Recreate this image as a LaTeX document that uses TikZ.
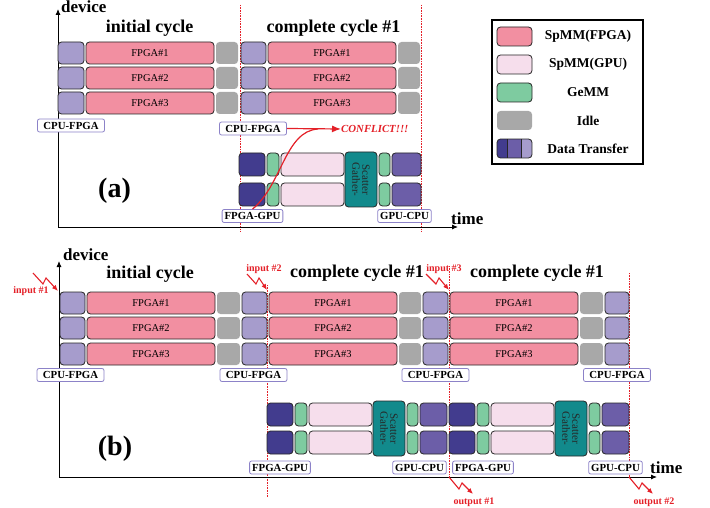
\documentclass[tikz,border=0pt]{standalone}
\usepackage{fontspec}
\setmainfont{Liberation Serif}
\usetikzlibrary{arrows.meta}
\definecolor{cfpga}{RGB}{242,143,161}
\definecolor{cgpu}{RGB}{246,222,236}
\definecolor{cgemm}{RGB}{126,203,160}
\definecolor{cidle}{RGB}{168,168,168}
\definecolor{cnavy}{RGB}{66,60,142}
\definecolor{cpur}{RGB}{108,94,168}
\definecolor{clav}{RGB}{166,156,204}
\definecolor{cteal}{RGB}{18,138,140}
\definecolor{clbl}{RGB}{140,130,200}
\definecolor{cred}{RGB}{228,32,40}
\newcommand{\bx}[7]{\node[#1, minimum width={(#4)-(#3)}, minimum height={(#6)-(#5)}] (#2) at ({((#3)+(#4))/2},{((#5)+(#6))/2}) {#7};}
\newcommand{\gpuset}[9]{%
  \foreach \r/\ya/\yb in {1/#4/#5, 2/#6/#7} {
    \bx{navyb}{#1N\r}{#2}{#2+26}{\ya}{\yb}{}
    \bx{gemmb}{#1G\r}{#2+28}{#2+40}{\ya}{\yb}{}
    \bx{gpub}{#1P\r}{#2+42}{#2+105}{\ya}{\yb}{}
    \bx{gemmb}{#1H\r}{#2+140}{#2+151}{\ya}{\yb}{}
    \bx{purb}{#1Q\r}{#2+153}{#3}{\ya}{\yb}{}
  }
  \node[gsb, minimum width={(#9)-(#8)}, minimum height=32] (#1GS) at ({#2+122},{((#8)+(#9))/2}) {Scatter\\Gather-};
}
\begin{document}
\begin{tikzpicture}[x=1pt,y=-1pt,
 blkbase/.style={rounded corners=3.5pt, inner sep=0pt, outer sep=0pt, line width=0.8pt, draw=black!85},
 fpgab/.style={blkbase, fill=cfpga, font=\fontsize{10.5}{12}\selectfont},
 cpub/.style={blkbase, fill=clav},
 idleb/.style={blkbase, draw=none, fill=cidle},
 navyb/.style={blkbase, fill=cnavy},
 purb/.style={blkbase, fill=cpur},
 gemmb/.style={blkbase, fill=cgemm},
 gpub/.style={blkbase, fill=cgpu},
 gsb/.style={blkbase, fill=cteal, rotate=-90, align=center, text=black!85, font=\fontsize{11}{10}\selectfont},
 lbl/.style={draw=clbl, fill=white, rounded corners=2pt, line width=0.8pt, inner xsep=2.5pt, inner ysep=0pt, minimum height=13, font=\bfseries\fontsize{10.8}{12}\selectfont},
 lblw/.style={lbl, minimum width=67},
 ttl/.style={font=\bfseries\fontsize{18}{20}\selectfont, anchor=base, inner sep=0},
 axl/.style={font=\bfseries\fontsize{17}{20}\selectfont, anchor=base west, inner sep=0},
 axarrow/.style={line width=0.9pt, -{Latex[length=6pt,width=5pt]}},
 vdot/.style={cred, densely dotted, line width=0.6pt},
 redt/.style={text=cred, font=\bfseries\fontsize{10}{12}\selectfont, inner sep=0},
 zig/.style={cred, line width=1.1pt, -{Latex[length=6pt,width=5pt]}},
 legt/.style={font=\bfseries\fontsize{13.5}{15}\selectfont, inner sep=0},
 pl/.style={font=\bfseries\fontsize{28}{30}\selectfont, anchor=base, inner sep=0},
]
\useasboundingbox (0,0) rectangle (710,508);

% ================= (a) =================
\draw[vdot] (240,5) -- (240,232);
\draw[vdot] (421,5) -- (421,232);
\coordinate (aO) at (58,227);
\coordinate (aY) at (58,9);
\coordinate (aX) at (458,227);
\draw[axarrow] (aO) -- (aY);
\draw[axarrow] (aO) -- (aX);
\node[axl] (aDev) at (61,12.5) {device};
\node[axl] (aTime) at (451,225) {time};
\node[ttl] (aT1) at (149.5,33) {initial cycle};
\node[ttl] (aT2) at (333.5,33) {complete cycle \#1};

\foreach \r/\ya/\yb in {1/42/64, 2/67/89, 3/92/114} {
  \bx{cpub}{aA\r}{58}{84}{\ya}{\yb}{}
  \bx{fpgab}{aF\r}{86}{214}{\ya}{\yb}{FPGA\#\r}
  \bx{idleb}{aI\r}{216}{238}{\ya}{\yb}{}
  \bx{cpub}{aB\r}{241}{266}{\ya}{\yb}{}
  \bx{fpgab}{aE\r}{268}{396}{\ya}{\yb}{FPGA\#\r}
  \bx{idleb}{aJ\r}{398}{420}{\ya}{\yb}{}
}
\gpuset{a}{239}{421}{153}{176}{183}{206}{152}{207}

\node[lblw] (aL1) at (71,125.5) {CPU-FPGA};
\node[lblw] (aL2) at (253,128.5) {CPU-FPGA};
\node[lbl] (aL3) at (252.5,216) {FPGA-GPU};
\node[lbl] (aL4) at (404.5,216) {GPU-CPU};
\node[anchor=west, inner sep=0, text=cred, font=\bfseries\itshape\fontsize{10.8}{12}\selectfont] (aCon) at (341,129) {CONFLICT!!!};
\draw[cred, line width=1.2pt] (aL3.north) .. controls (282,185) and (285,131) .. (318,129);
\draw[cred, line width=1.2pt, -{Latex[length=9pt,width=7pt]}] (aL2.east) -- (aCon.west);
\node[pl] (aLab) at (114.5,197) {(a)};

% ================= legend =================
\node[draw=black, line width=1.1pt, minimum width=151, minimum height=144, inner sep=0] (leg) at (567.5,92) {};
\bx{fpgab}{L1}{497}{532}{27}{46}{}
\bx{gpub}{L2}{497}{532}{55}{74}{}
\bx{gemmb}{L3}{497}{532}{83}{102}{}
\bx{idleb}{L4}{497}{532}{111}{130}{}
\begin{scope}
\clip[rounded corners=3.5pt] (497,139) rectangle (532,158);
\fill[cnavy] (497,139) rectangle (507,158);
\fill[cpur] (507,139) rectangle (521,158);
\fill[clav] (521,139) rectangle (532,158);
\end{scope}
\bx{blkbase}{L5}{497}{532}{139}{158}{}
\draw[line width=0.8pt, black!85] (507,139) -- (507,158) (521,139) -- (521,158);
\node[legt] (L1t) at (588,36.5) {SpMM(FPGA)};
\node[legt] (L2t) at (588,64.5) {SpMM(GPU)};
\node[legt] (L3t) at (588,92.5) {GeMM};
\node[legt] (L4t) at (588,120.5) {Idle};
\node[legt] (L5t) at (588,148.5) {Data Transfer};

% ================= (b) =================
\draw[vdot] (267,285) -- (267,497);
\draw[vdot] (449,266) -- (449,477);
\draw[vdot] (629,273) -- (629,477);
\coordinate (bO) at (59,477);
\coordinate (bY) at (59,261);
\coordinate (bX) at (657,477);
\draw[axarrow] (bO) -- (bY);
\draw[axarrow] (bO) -- (bX);
\node[axl] (bDev) at (63,260) {device};
\node[axl] (bTime) at (650,473) {time};
\node[ttl] (bT1) at (150,278) {initial cycle};
\node[ttl] (bT2) at (357,277) {complete cycle \#1};
\node[ttl] (bT3) at (537,277) {complete cycle \#1};

\foreach \r/\ya/\yb in {1/292/314, 2/317/339, 3/343/365} {
  \bx{cpub}{bA\r}{60}{85}{\ya}{\yb}{}
  \bx{fpgab}{bF\r}{87}{215}{\ya}{\yb}{FPGA\#\r}
  \bx{idleb}{bI\r}{217}{240}{\ya}{\yb}{}
  \bx{cpub}{bB\r}{242}{267}{\ya}{\yb}{}
  \bx{fpgab}{bE\r}{269}{397}{\ya}{\yb}{FPGA\#\r}
  \bx{idleb}{bJ\r}{399}{421}{\ya}{\yb}{}
  \bx{cpub}{bC\r}{423}{448}{\ya}{\yb}{}
  \bx{fpgab}{bD\r}{450}{578}{\ya}{\yb}{FPGA\#\r}
  \bx{idleb}{bK\r}{580}{603}{\ya}{\yb}{}
  \bx{cpub}{bM\r}{605}{629}{\ya}{\yb}{}
}
\gpuset{b}{267}{447}{403}{426}{431}{454}{401}{456}
\gpuset{c}{449}{629}{403}{426}{431}{454}{401}{456}

\node[lblw] (bL1) at (70.5,375) {CPU-FPGA};
\node[lblw] (bL2) at (253.5,375) {CPU-FPGA};
\node[lblw] (bL3) at (435.5,375) {CPU-FPGA};
\node[lblw] (bL4) at (617,375) {CPU-FPGA};
\node[lbl] (bL5) at (280,467.5) {FPGA-GPU};
\node[lbl] (bL6) at (419.5,467.5) {GPU-CPU};
\node[lbl] (bL7) at (483,467.5) {FPGA-GPU};
\node[lbl] (bL8) at (615.5,467.5) {GPU-CPU};
\node[pl] (bLab) at (115,455) {(b)};

% inputs / outputs
\node[redt] (in1) at (31,291) {input \#1};
\node[redt] (in2) at (264,269) {input \#2};
\node[redt] (in3) at (444,269) {input \#3};
\node[redt] (out1) at (474,502) {output \#1};
\node[redt] (out2) at (654,502) {output \#2};
\coordinate (i1s) at (33,273); \coordinate (i1t) at (58,291);
\coordinate (i2s) at (247,274); \coordinate (i2t) at (267,290);
\coordinate (i3s) at (426,274); \coordinate (i3t) at (449,290);
\coordinate (o1s) at (449,477); \coordinate (o1t) at (473,494);
\coordinate (o2s) at (629,477); \coordinate (o2t) at (653,494);
\draw[zig] (i1s) -- (43,284) -- (46,278) -- (i1t);
\draw[zig] (i2s) -- (256,284) -- (259,278) -- (i2t);
\draw[zig] (i3s) -- (436,284) -- (439,278) -- (i3t);
\draw[zig] (o1s) -- (459,489) -- (462,483) -- (o1t);
\draw[zig] (o2s) -- (639,489) -- (642,483) -- (o2t);
\end{tikzpicture}
\end{document}
